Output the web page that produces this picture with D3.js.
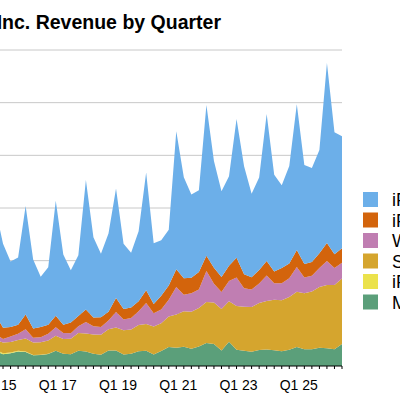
<!DOCTYPE html><html><head><meta charset="utf-8"><script src="https://cdn.jsdelivr.net/npm/d3@7"></script>
<style>body{margin:0;background:#fff}</style></head><body><svg id="c" width="400" height="400"></svg>
<script>
const quarters=[];for(let y=15;y<=26;y++)for(let q=1;q<=4;q++)quarters.push("Q"+q+" "+y);
const total=[74.6,58,49.6,51.5,75.9,50.6,42.4,46.9,78.4,52.9,45.4,52.6,88.3,61.1,53.3,62.9,84.3,58,53.8,64,91.8,58.3,59.7,64.7,111.4,89.6,81.4,83.4,123.9,97.3,83,90.1,117.2,94.8,81.8,89.5,119.6,90.8,85.8,94.9,124.3,95.4,94,102.5,143.8,111,109];
const mac=[6.9,5.6,6.0,6.9,6.7,5.1,5.2,5.7,7.2,5.8,5.6,7.2,6.9,5.8,5.3,7.4,7.4,5.5,5.8,7.0,7.2,5.4,7.1,9.0,8.7,9.1,8.2,9.2,10.9,10.4,7.4,11.5,7.7,7.2,6.8,7.6,7.8,7.5,7.0,7.7,9.0,7.9,8.0,8.7,8.4,8.0,10.5];
const ipod=[0.8,0.5,0.4,0.3,0.2,0.1,0.1,0.1,0,0,0,0,0,0,0,0,0,0,0,0,0,0,0,0,0,0,0,0,0,0,0,0,0,0,0,0,0,0,0,0,0,0,0,0,0,0,0];
const services=[4.8,5.0,5.0,5.1,6.1,6.0,6.0,6.3,7.2,7.0,7.3,8.5,8.5,9.2,9.5,10.0,10.9,11.5,11.5,12.5,12.7,13.3,13.2,14.5,15.8,16.9,17.5,18.3,19.5,19.8,19.6,19.2,20.8,20.9,21.2,22.3,23.1,23.9,24.2,25.0,26.3,26.6,27.4,28.8,30,30.5,31];
const wearables=[2.7,1.7,2.6,3.0,4.4,2.2,2.3,3.2,4.0,2.9,2.7,3.2,5.5,3.9,3.7,4.2,7.3,5.1,5.5,6.5,10.0,6.3,6.5,7.9,13.0,7.8,8.8,8.8,14.7,8.8,8.1,9.7,13.5,8.8,8.3,9.3,12.0,7.9,8.1,9.0,11.7,7.5,7.4,9.0,11.5,8,7.5];
const ipad=[9.0,5.4,4.5,4.3,7.1,4.4,4.9,4.3,5.5,3.9,5.0,4.8,5.9,4.1,4.7,4.1,6.7,4.9,5.0,4.7,6.0,4.4,6.6,6.8,8.4,7.8,7.4,8.3,7.2,7.6,7.2,7.2,9.4,6.7,5.8,6.4,7.0,5.6,7.2,7.0,8.1,6.4,6.6,7.0,8.5,6.5,6.9];
const iphone=total.map((t,i)=>t-mac[i]-ipod[i]-services[i]-wearables[i]-ipad[i]);
const seriesNames=["Mac","iPod","Services","Wearables","iPad","iPhone"];
const colors={Mac:"#5b9f7a",iPod:"#ebe24c",Services:"#d5a52e",Wearables:"#c07eb2",iPad:"#d3640c",iPhone:"#6cafe9"};
const legendOrder=["iPhone","iPad","Wearables","Services","iPod","Mac"];
const yTicks=[25,50,75,100,125,150];
const xLabels=["Q1 15","Q1 17","Q1 19","Q1 21","Q1 23","Q1 25"];
const vals={Mac:mac,iPod:ipod,Services:services,Wearables:wearables,iPad:ipad,iPhone:iphone};
const rows=quarters.slice(0,total.length).map((q,i)=>{const r={i};seriesNames.forEach(s=>r[s]=vals[s][i]);return r;});
const svg=d3.select("#c");
const x=d3.scaleLinear().domain([0,46]).range([-4.5,342]);
const y=d3.scaleLinear().domain([0,150]).range([366,50]);
svg.append("text").attr("x",221).attr("y",29).attr("text-anchor","end").attr("font-family","Liberation Sans, Arial").attr("font-weight","bold").attr("font-size",19.5).text("Apple Inc. Revenue by Quarter");
svg.append("g").selectAll("line").data(yTicks).join("line").attr("x1",0).attr("x2",342).attr("y1",d=>y(d)).attr("y2",d=>y(d)).attr("stroke","#c8c8c8").attr("stroke-width",1);
const stack=d3.stack().keys(seriesNames)(rows);
const area=d3.area().x(d=>x(d.data.i)).y0(d=>y(d[0])).y1(d=>y(d[1]));
svg.append("g").selectAll("path").data(stack).join("path").attr("d",area).attr("fill",d=>colors[d.key]);
svg.append("line").attr("x1",0).attr("x2",342).attr("y1",366).attr("y2",366).attr("stroke","#000");
svg.append("g").selectAll("line").data(d3.range(total.length)).join("line").attr("x1",d=>x(d)).attr("x2",d=>x(d)).attr("y1",366).attr("y2",369).attr("stroke","#000");
svg.append("g").selectAll("text").data(xLabels).join("text").attr("x",d=>x(quarters.indexOf(d))+2).attr("y",390).attr("text-anchor","middle").attr("font-family","Liberation Sans, Arial").attr("font-size",14).text(d=>d);
const lg=svg.append("g").selectAll("g").data(legendOrder).join("g").attr("transform",(d,i)=>`translate(363,${192+i*20.5})`);
lg.append("rect").attr("width",15).attr("height",15).attr("fill",d=>colors[d]);
lg.append("text").attr("x",29).attr("y",14).attr("font-family","Liberation Sans, Arial").attr("font-size",18).text(d=>d);
</script></body></html>
